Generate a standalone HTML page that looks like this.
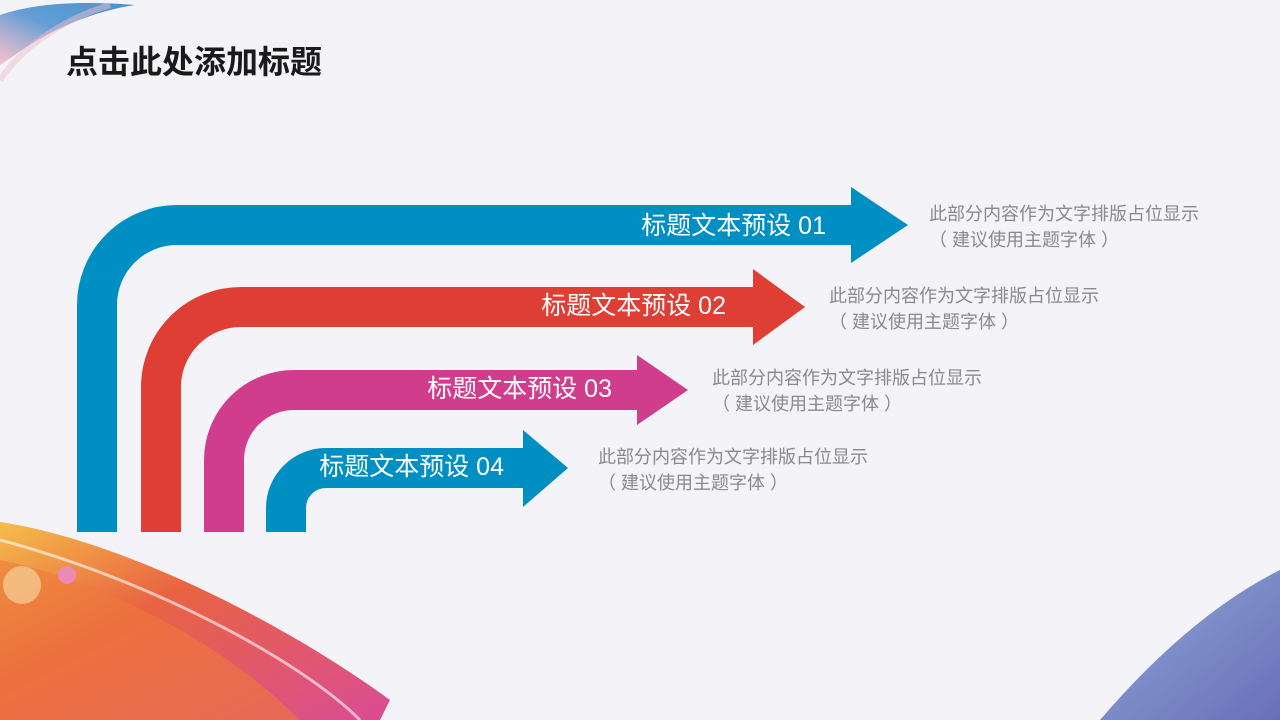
<!DOCTYPE html>
<html><head><meta charset="utf-8"><style>
body{margin:0;width:1280px;height:720px;overflow:hidden;background:#f3f3f8;font-family:"Liberation Sans","Noto Sans CJK SC",sans-serif;}
</style></head><body>
<svg width="1280" height="720" viewBox="0 0 1280 720" style="position:absolute;left:0;top:0">
<defs>
<linearGradient id="g1" x1="0" y1="0" x2="1" y2="1"><stop offset="0" stop-color="#f5b836"/><stop offset="0.4" stop-color="#e8532e"/><stop offset="1" stop-color="#d63a8a"/></linearGradient>
<linearGradient id="g2" x1="0" y1="0" x2="1" y2="1"><stop offset="0" stop-color="#8ea8d8"/><stop offset="1" stop-color="#6a6fb8"/></linearGradient>
<linearGradient id="g3" x1="0" y1="1" x2="1" y2="0"><stop offset="0" stop-color="#f0a0b0" stop-opacity="0.7"/><stop offset="0.5" stop-color="#4a8fd0"/><stop offset="1" stop-color="#2a7fc8"/></linearGradient>
</defs>
<path d="M0,522 C120,540 280,620 390,700 L380,720 L0,720 Z" fill="url(#g1)" opacity="0.9"/>
<path d="M0,560 C100,580 220,640 300,720 L0,720 Z" fill="#ee7a3a" opacity="0.6"/>
<path d="M0,540 C150,580 300,660 360,720" stroke="#fff" stroke-width="3" fill="none" opacity="0.6"/>
<circle cx="67" cy="575" r="9" fill="#e98bb5"/>
<circle cx="22" cy="585" r="19" fill="#f7d09a" opacity="0.7"/>
<path d="M0,15 C30,5 70,0 135,5 C90,12 50,30 15,55 L0,65 Z" fill="url(#g3)" opacity="0.85"/>
<path d="M0,80 C20,50 60,20 110,5" stroke="#f0c0c8" stroke-width="6" fill="none" opacity="0.5"/>
<path d="M1280,570 L1280,720 L1100,720 C1160,650 1220,600 1280,570 Z" fill="url(#g2)"/>
<g fill="none" stroke-width="40">
<path d="M97,532 V305 A80,80 0 0 1 177,225 H852" stroke="#008fc3"/>
<path d="M161,532 V387 A80,80 0 0 1 241,307 H754" stroke="#de3e34"/>
<path d="M224,532 V460 A70,70 0 0 1 294,390 H638" stroke="#d13d8d"/>
<path d="M286,532 V508 A40,40 0 0 1 326,468 H524" stroke="#008fc3"/>
</g>
<polygon points="851,187 908,225 851,263" fill="#008fc3"/>
<polygon points="753,269 805,307 753,345" fill="#de3e34"/>
<polygon points="637,355 688,390 637,425" fill="#d13d8d"/>
<polygon points="523,430 568,468 523,507" fill="#008fc3"/>
<g fill="#fff" font-size="25" text-anchor="end" font-family="Liberation Sans,Noto Sans CJK SC,sans-serif">
<text x="826" y="234">标题文本预设 01</text>
<text x="726" y="314">标题文本预设 02</text>
<text x="612" y="397">标题文本预设 03</text>
<text x="504" y="475">标题文本预设 04</text>
</g>
<g fill="#8a8a8a" font-size="18" font-family="Liberation Sans,Noto Sans CJK SC,sans-serif">
<text x="929" y="220">此部分内容作为文字排版占位显示</text><text x="929" y="246">（ 建议使用主题字体 ）</text>
<text x="829" y="302">此部分内容作为文字排版占位显示</text><text x="829" y="328">（ 建议使用主题字体 ）</text>
<text x="712" y="384">此部分内容作为文字排版占位显示</text><text x="712" y="410">（ 建议使用主题字体 ）</text>
<text x="598" y="463">此部分内容作为文字排版占位显示</text><text x="598" y="489">（ 建议使用主题字体 ）</text>
</g>
<text x="66" y="73" font-size="32" font-weight="bold" fill="#1a1a1a" font-family="Liberation Sans,Noto Sans CJK SC,sans-serif">点击此处添加标题</text>
</svg>
</body></html>
